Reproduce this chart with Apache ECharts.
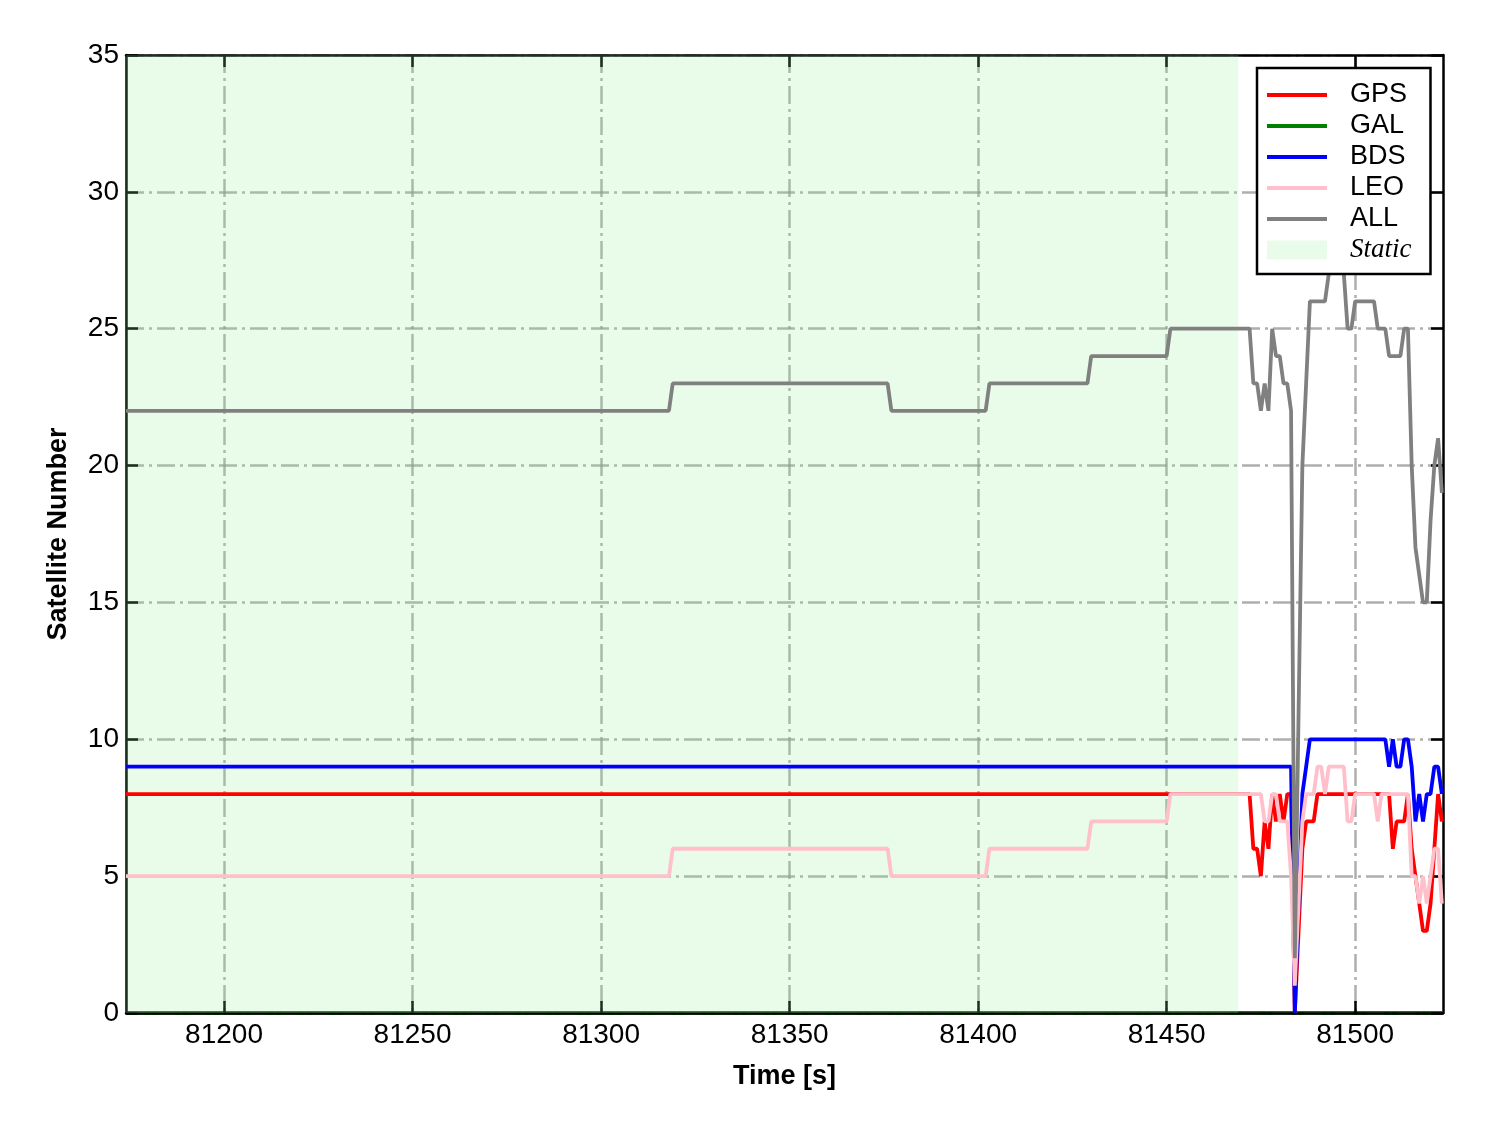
<!DOCTYPE html>
<html>
<head>
<meta charset="utf-8">
<script src="https://cdn.jsdelivr.net/npm/echarts@6/dist/echarts.min.js"></script>
<style>
html,body{margin:0;padding:0;background:#fff;}
#chart{width:1488px;height:1133px;}
</style>
</head>
<body>
<div id="chart"></div>
<script>
// ---- data ----
const xTicks = [81200, 81250, 81300, 81350, 81400, 81450, 81500];
const yTicks = [0, 5, 10, 15, 20, 25, 30, 35];
const staticPeriod = [81174, 81469];

// static part: change points [time, value]
const gpsStatic = [[81174, 8], [81471, 8]];
const galStatic = [[81174, 0], [81471, 0]];
const bdsStatic = [[81174, 9], [81471, 9]];
const leoStatic = [[81174, 5], [81318, 5], [81319, 6], [81376, 6], [81377, 5], [81402, 5], [81403, 6], [81429, 6], [81430, 7], [81450, 7], [81451, 8], [81471, 8]];
const allStatic = [[81174, 22], [81318, 22], [81319, 23], [81376, 23], [81377, 22], [81402, 22], [81403, 23], [81429, 23], [81430, 24], [81450, 24], [81451, 25], [81471, 25]];

// dynamic part: one value per second
const dynTimes = [81472, 81473, 81474, 81475, 81476, 81477, 81478, 81479, 81480, 81481,
  81482, 81483, 81484, 81485, 81486, 81487, 81488, 81489, 81490, 81491,
  81492, 81493, 81494, 81495, 81496, 81497, 81498, 81499, 81500, 81501,
  81502, 81503, 81504, 81505, 81506, 81507, 81508, 81509, 81510, 81511,
  81512, 81513, 81514, 81515, 81516, 81517, 81518, 81519, 81520, 81521,
  81522, 81523];
const gpsDyn = [8, 6, 6, 5, 7, 6, 8, 7, 8, 7,
  8, 8, 0, 3, 6, 7, 7, 7, 8, 8,
  8, 8, 8, 8, 8, 8, 8, 8, 8, 8,
  8, 8, 8, 8, 8, 8, 8, 8, 6, 7,
  7, 7, 8, 6, 5, 4, 3, 3, 4, 6,
  8, 7];
const galDyn = [0, 0, 0, 0, 0, 0, 0, 0, 0, 0,
  0, 0, 0, 0, 0, 0, 0, 0, 0, 0,
  0, 0, 0, 0, 0, 0, 0, 0, 0, 0,
  0, 0, 0, 0, 0, 0, 0, 0, 0, 0,
  0, 0, 0, 0, 0, 0, 0, 0, 0, 0,
  0, 0];
const bdsDyn = [9, 9, 9, 9, 9, 9, 9, 9, 9, 9,
  9, 9, 0, 4, 8, 9, 10, 10, 10, 10,
  10, 10, 10, 10, 10, 10, 10, 10, 10, 10,
  10, 10, 10, 10, 10, 10, 10, 9, 10, 9,
  9, 10, 10, 9, 7, 8, 7, 8, 8, 9,
  9, 8];
const leoDyn = [8, 8, 8, 8, 7, 7, 8, 8, 7, 7,
  7, 5, 1, 4, 7, 8, 8, 8, 9, 9,
  8, 9, 9, 9, 9, 9, 7, 7, 8, 8,
  8, 8, 8, 8, 7, 8, 8, 8, 8, 8,
  8, 8, 8, 5, 5, 4, 5, 4, 5, 6,
  6, 4];
const allDyn = [25, 23, 23, 22, 23, 22, 25, 24, 24, 23,
  23, 22, 2, 11, 20, 23, 26, 26, 26, 26,
  26, 27, 28, 28, 28, 27, 25, 25, 26, 26,
  26, 26, 26, 26, 25, 25, 25, 24, 24, 24,
  24, 25, 25, 20, 17, 16, 15, 15, 18, 20,
  21, 19];

const seriesNames = ['GPS', 'GAL', 'BDS', 'LEO', 'ALL'];
const seriesColors = ['#ff0000', '#008000', '#0000ff', '#ffc0cb', '#808080'];
const staticColor = 'rgba(144,238,144,0.2)';

function build(st, dyn) {
  return st.concat(dynTimes.map((t, i) => [t, dyn[i]]));
}
const allData = [
  build(gpsStatic, gpsDyn),
  build(galStatic, galDyn),
  build(bdsStatic, bdsDyn),
  build(leoStatic, leoDyn),
  build(allStatic, allDyn)
];

const FONT = 'Liberation Sans, Arial, sans-serif';
const gridStyle = { color: 'rgba(140,140,140,0.7)', width: 2.5, type: [18, 5, 3, 5] };
const frameLine = { show: true, onZero: false, lineStyle: { color: '#000', width: 2.5 } };
const tickStyle = { color: '#000', width: 2.5 };

const series = seriesNames.map((n, i) => ({
  name: n,
  type: 'line',
  data: allData[i],
  showSymbol: false,
  symbol: 'none',
  z: n === 'GAL' ? -1 : 2,
  color: seriesColors[i],
  lineStyle: { color: seriesColors[i], width: 3.8 },
  emphasis: { disabled: true }
}));
series.push({
  name: 'Static',
  type: 'line',
  data: [],
  z: 1,
  color: staticColor,
  itemStyle: { color: staticColor },
  lineStyle: { color: staticColor },
  markArea: {
    silent: true,
    itemStyle: { color: staticColor },
    data: [[{ xAxis: staticPeriod[0] }, { xAxis: staticPeriod[1] }]]
  }
});

const lineIcon = 'path://M0,0 L60,0 L60,3.8 L0,3.8 Z';

const option = {
  animation: false,
  backgroundColor: '#fff',
  grid: { left: 126, right: 45, top: 55, bottom: 120 },
  legend: {
    orient: 'vertical',
    left: 1257,
    top: 68,
    backgroundColor: '#fff',
    borderColor: '#000',
    borderWidth: 2.5,
    borderRadius: 0,
    padding: [13, 19, 10, 10],
    itemWidth: 60,
    itemHeight: 19,
    itemGap: 3,
    selectedMode: false,
    textStyle: { fontSize: 27, color: '#000', fontFamily: FONT, lineHeight: 28, padding: [0, 0, 0, 18] },
    data: seriesNames.map(n => ({ name: n, icon: lineIcon })).concat([{
      name: 'Static', icon: 'rect', itemStyle: { color: staticColor },
      textStyle: { fontStyle: 'italic', fontFamily: 'Liberation Serif, Times New Roman, serif', fontSize: 27 }
    }])
  },
  xAxis: [{
    type: 'value', position: 'bottom', min: 81174, max: 81523.3,
    name: 'Time [s]', nameLocation: 'middle', nameGap: 50,
    nameTextStyle: { fontSize: 27, fontWeight: 'bold', color: '#000', fontFamily: FONT },
    axisLine: frameLine,
    axisTick: { show: true, inside: true, length: 12, lineStyle: tickStyle, customValues: xTicks },
    axisLabel: { show: true, fontSize: 28, color: '#000', fontFamily: FONT, margin: 8, customValues: xTicks, formatter: v => String(v) },
    splitLine: { show: true, lineStyle: gridStyle, customValues: xTicks }
  }, {
    type: 'value', position: 'top', min: 81174, max: 81523.3,
    axisLine: frameLine,
    axisTick: { show: true, inside: true, length: 12, lineStyle: tickStyle, customValues: xTicks },
    axisLabel: { show: false },
    splitLine: { show: false }
  }],
  yAxis: [{
    type: 'value', position: 'left', min: 0, max: 35, interval: 5,
    name: 'Satellite Number', nameLocation: 'middle', nameGap: 54, nameRotate: 90,
    nameTextStyle: { fontSize: 27, fontWeight: 'bold', color: '#000', fontFamily: FONT },
    axisLine: frameLine,
    axisTick: { show: true, inside: true, length: 12, lineStyle: tickStyle },
    axisLabel: { show: true, fontSize: 28, color: '#000', fontFamily: FONT, margin: 7, showMinLabel: true, showMaxLabel: true },
    splitLine: { show: true, lineStyle: gridStyle }
  }, {
    type: 'value', position: 'right', min: 0, max: 35, interval: 5,
    axisLine: frameLine,
    axisTick: { show: true, inside: true, length: 12, lineStyle: tickStyle },
    axisLabel: { show: false },
    splitLine: { show: false }
  }],
  series: series
};

const chart = echarts.init(document.getElementById('chart'), null, { renderer: 'canvas' });
chart.setOption(option);
</script>
</body>
</html>
